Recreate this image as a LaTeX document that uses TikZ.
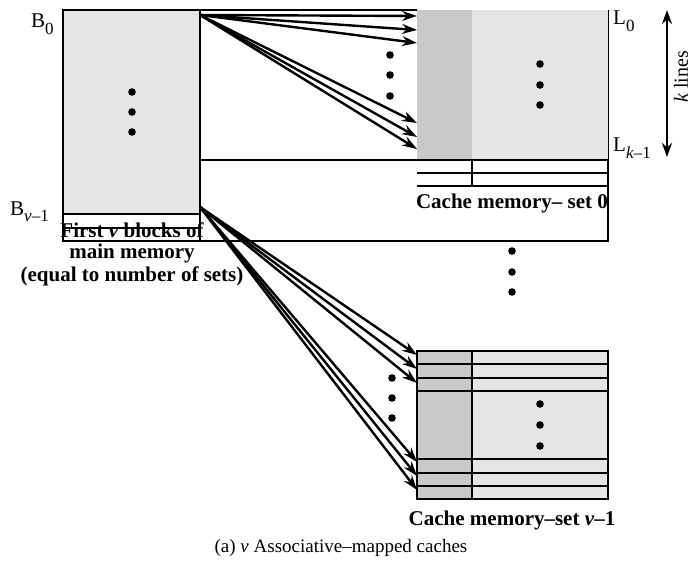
\documentclass[tikz,border=0pt]{standalone}
\usepackage{fontspec}
\setmainfont{Liberation Serif}
\usetikzlibrary{arrows.meta}
\definecolor{lightmem}{gray}{0.90}
\definecolor{darktag}{gray}{0.79}
\newcommand{\lowsub}[1]{\raisebox{-0.32em}{\fontsize{17}{17}\selectfont #1}}
\tikzset{
  memline/.style={line width=1.1pt},
  maparrow/.style={line width=2.4pt, -{Stealth[length=15pt,width=10pt,inset=5pt]}},
  lbl/.style={font=\fontsize{21}{25}\selectfont, inner sep=0pt},
  boldlbl/.style={font=\fontsize{21}{23}\selectfont\bfseries, inner sep=0pt, align=center},
}
\begin{document}
\begin{tikzpicture}[x=1pt, y=-1pt]
  \useasboundingbox (0,0) rectangle (692,564);
  \def\dotr{3.8}
  % main memory
  \fill[lightmem] (63,10) rectangle (200,214);
  \draw[memline] (63,10) rectangle (200,241);
  \draw[memline] (63,214) -- (200,214);
  \draw[memline] (63,228) -- (200,228);
  \foreach \y in {92,112,132} \fill (132,\y) circle (\dotr);
  % outer frame
  \draw[memline] (200,10) -- (417,10);
  \draw[memline] (200,160) -- (417,160);
  \draw[memline] (200,241) -- (608,241) -- (608,10);
  % cache set 0
  \fill[darktag] (417,10) rectangle (472,160);
  \fill[lightmem] (472,10) rectangle (608,160);
  \draw[memline] (417,173) -- (608,173);
  \draw[memline] (417,186) -- (608,186);
  \draw[memline] (472,160) -- (472,186);
  \draw[memline] (417,160) -- (608,160);
  \foreach \y in {64,85,105} \fill (540,\y) circle (\dotr);
  \foreach \y in {55,75,96} \fill (390,\y) circle (\dotr);
  \node[boldlbl] (set0) at (512,203) {Cache memory– set 0};
  % between sets
  \foreach \y in {251,272,292} \fill (512,\y) circle (\dotr);
  % cache set v-1
  \fill[darktag] (417,351) rectangle (472,499);
  \fill[lightmem] (472,351) rectangle (608,499);
  \draw[memline] (417,351) rectangle (608,499);
  \draw[memline] (472,351) -- (472,499);
  \foreach \y in {364,378,391,459,473,486} \draw[memline] (417,\y) -- (608,\y);
  \foreach \y in {404,425,446} \fill (540,\y) circle (\dotr);
  \foreach \y in {378,398,418} \fill (392,\y) circle (\dotr);
  \node[boldlbl] (setv) at (512,520) {Cache memory–set \textit{v}–1};
  % arrows
  \coordinate (b0) at (200,15);
  \coordinate (bv) at (200,207);
  \foreach \y [count=\i] in {16,30,43,123,137,149} \coordinate (s0l\i) at (417,\y);
  \foreach \y [count=\i] in {355,369,383,462,476,490} \coordinate (svl\i) at (417,\y);
  \foreach \i in {1,...,6} {
    \draw[maparrow] (b0) -- (s0l\i);
    \draw[maparrow] (bv) -- (svl\i);
  }
  % labels
  \node[lbl, anchor=base west] (B0) at (31,28) {B\lowsub{0}};
  \node[lbl, anchor=base west] (Bv) at (10,215) {B\lowsub{\textit{v}–1}};
  \node[lbl, anchor=base west] (L0) at (613,25) {L\lowsub{0}};
  \node[lbl, anchor=base west] (Lk) at (613,152) {L\lowsub{\textit{k}–1}};
  \node[boldlbl] (first) at (132,230) {First \textit{v} blocks of};
  \node[boldlbl] (mainm) at (132,253) {main memory};
  \node[boldlbl] (equal) at (132,276) {(equal to number of sets)};
  \coordinate (ktop) at (667,10);
  \coordinate (kbot) at (667,157);
  \draw[line width=2.4pt, {Stealth[length=14pt,width=10pt]}-{Stealth[length=14pt,width=10pt]}] (ktop) -- (kbot);
  \node[lbl, font=\fontsize{20}{24}\selectfont, rotate=90] (klines) at (681,77) {\textit{k} lines};
  \node[lbl, font=\fontsize{19}{23}\selectfont] (caption) at (341,548) {(a) \textit{v} Associative–mapped caches};
\end{tikzpicture}
\end{document}
